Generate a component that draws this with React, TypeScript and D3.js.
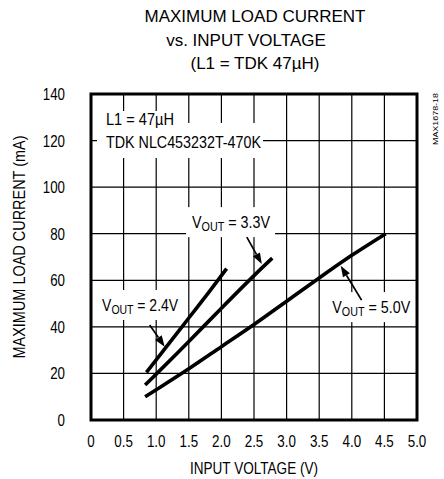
import React from 'react';
import * as d3 from 'd3';

// ---- data ----
const xTicks = [0, 0.5, 1, 1.5, 2, 2.5, 3, 3.5, 4, 4.5, 5];
const xTickLabels = ['0', '0.5', '1.0', '1.5', '2.0', '2.5', '3.0', '3.5', '4.0', '4.5', '5.0'];
const yTicks = [0, 20, 40, 60, 80, 100, 120, 140];
const yTickLabels = ['0', '20', '40', '60', '80', '100', '120', '140'];

const vin24 = [0.85, 1.2, 1.5, 1.8, 2.08];
const iout24 = [20.5, 33, 43.8, 54.6, 65];
const vin33 = [0.83, 1.0, 1.5, 2.0, 2.5, 2.78];
const iout33 = [15, 19.7, 33.7, 48, 62, 69.5];
const vin50 = [0.83, 1.0, 1.5, 2.0, 2.5, 3.0, 3.5, 4.0, 4.52];
const iout50 = [10, 13, 22, 31.5, 41, 51, 61, 70.7, 80];

const titleLines = ['MAXIMUM LOAD CURRENT', 'vs. INPUT VOLTAGE', '(L1 = TDK 47\u00B5H)'];
const xTitle = 'INPUT VOLTAGE (V)';
const yTitle = 'MAXIMUM LOAD CURRENT (mA)';
const figId = 'MAX1678-18';
const noteLines = ['L1 = 47\u00B5H', 'TDK NLC453232T-470K'];
const voutLabels = ['2.4V', '3.3V', '5.0V'];

const W = 444;
const H = 479;
const FONT = "'Liberation Sans', Arial, Helvetica, sans-serif";

const x = d3.scaleLinear().domain([0, 5]).range([91, 417]);
const y = d3.scaleLinear().domain([0, 140]).range([420, 94]);

const line = d3
  .line<[number, number]>()
  .x((d) => x(d[0]))
  .y((d) => y(d[1]))
  .curve(d3.curveCatmullRom.alpha(0.5));

const zip = (a: number[], b: number[]) => a.map((v, i) => [v, b[i]] as [number, number]);

const series = [zip(vin24, iout24), zip(vin33, iout33), zip(vin50, iout50)];

// annotation anchor points in data units
const arrows = [
  { from: [0.9, 40.8], to: [1.13, 31.5] },
  { from: [2.39, 78.5], to: [2.62, 67.0] },
  { from: [4.15, 51.5], to: [3.83, 66.2] },
];
const labelPos = [
  { v: 0.17, i: 46.8, w: 76 },
  { v: 1.55, i: 82.4, w: 78 },
  { v: 3.7, i: 45.9, w: 78 },
];
const notePos = [
  { v: 0.23, i: 126.6, w: 68, bx0: 97, bx1: 185, top: 111, bot: 128 },
  { v: 0.23, i: 116.8, w: 155, bx0: 97, bx1: 263, top: 123, bot: 158 },
];

function tickLen(s: string) {
  let n = 0;
  for (const c of s) n += c === '.' ? 3.8 : 7.4;
  return n;
}

function Arrow({ from, to }: { from: number[]; to: number[] }) {
  const x0 = x(from[0]);
  const y0 = y(from[1]);
  const x1 = x(to[0]);
  const y1 = y(to[1]);
  const ang = Math.atan2(y1 - y0, x1 - x0);
  const L = 11;
  const hw = 4;
  const bx = x1 - L * Math.cos(ang);
  const by = y1 - L * Math.sin(ang);
  const px = -Math.sin(ang) * hw;
  const py = Math.cos(ang) * hw;
  return (
    <g>
      <line x1={x0} y1={y0} x2={bx} y2={by} stroke="#000" strokeWidth={1.7} />
      <polygon points={`${x1},${y1} ${bx + px},${by + py} ${bx - px},${by - py}`} fill="#000" />
    </g>
  );
}

export default function App() {
  return (
    <svg
      width={W}
      height={H}
      viewBox={`0 0 ${W} ${H}`}
      style={{ position: 'absolute', left: 0, top: 0, background: '#fff' }}
      fontFamily={FONT}
    >
      <rect x={0} y={0} width={W} height={H} fill="#fff" />
      {/* title */}
      {titleLines.map((t, k) => (
        <text key={t} x={k === 1 ? 246 : 255} y={22 + k * 23.5} fontSize={17} textAnchor="middle" fill="#000">
          {t}
        </text>
      ))}

      {/* grid */}
      <g stroke="#000" strokeWidth={1.2}>
        {xTicks.slice(1, -1).map((t) => (
          <line key={'gx' + t} x1={x(t)} x2={x(t)} y1={y(0)} y2={y(140)} />
        ))}
        {yTicks.slice(1, -1).map((t) => (
          <line key={'gy' + t} x1={x(0)} x2={x(5)} y1={y(t)} y2={y(t)} />
        ))}
      </g>

      {/* label background boxes */}
      {notePos.map((n, k) => (
        <rect key={'nb' + k} x={n.bx0} y={n.top} width={n.bx1 - n.bx0} height={n.bot - n.top} fill="#fff" />
      ))}
      {labelPos.map((p, k) => (
        <rect
          key={'lb' + k}
          x={x(p.v) - 6}
          y={y(p.i) - 21}
          width={p.w + 11}
          height={30}
          fill="#fff"
        />
      ))}

      {/* curves */}
      {series.map((s, k) => (
        <path key={'s' + k} d={line(s) || ''} fill="none" stroke="#000" strokeWidth={3.6} strokeLinecap="butt" />
      ))}

      {/* arrows */}
      {arrows.map((a, k) => (
        <Arrow key={'a' + k} from={a.from} to={a.to} />
      ))}

      {/* notes */}
      {noteLines.map((t, k) => (
        <text
          key={t}
          x={x(notePos[k].v)}
          y={y(notePos[k].i)}
          fontSize={16}
          textLength={notePos[k].w}
          lengthAdjust="spacingAndGlyphs"
          fill="#000"
        >
          {t}
        </text>
      ))}

      {/* VOUT labels */}
      {voutLabels.map((t, k) => (
        <text
          key={t}
          x={x(labelPos[k].v)}
          y={y(labelPos[k].i)}
          fontSize={16}
          textLength={labelPos[k].w}
          lengthAdjust="spacingAndGlyphs"
          fill="#000"
        >
          V
          <tspan fontSize={12} dy={3}>
            OUT
          </tspan>
          <tspan dy={-3}>{' = ' + t}</tspan>
        </text>
      ))}

      {/* frame */}
      <rect x={x(0)} y={y(140)} width={x(5) - x(0)} height={y(0) - y(140)} fill="none" stroke="#000" strokeWidth={3} />

      {/* y ticks */}
      {yTicks.map((t, k) => (
        <text
          key={'yt' + t}
          x={65}
          y={y(t) + 6}
          fontSize={16}
          textAnchor="end"
          textLength={tickLen(yTickLabels[k])}
          lengthAdjust="spacingAndGlyphs"
          fill="#000"
        >
          {yTickLabels[k]}
        </text>
      ))}
      {/* x ticks */}
      {xTicks.map((t, k) => (
        <text
          key={'xt' + t}
          x={x(t)}
          y={447}
          fontSize={16}
          textAnchor="middle"
          textLength={tickLen(xTickLabels[k])}
          lengthAdjust="spacingAndGlyphs"
          fill="#000"
        >
          {xTickLabels[k]}
        </text>
      ))}

      {/* axis titles */}
      <text
        x={254}
        y={474}
        fontSize={16}
        textAnchor="middle"
        textLength={128}
        lengthAdjust="spacingAndGlyphs"
        fill="#000"
      >
        {xTitle}
      </text>
      <text
        transform="translate(25,247) rotate(-90)"
        fontSize={16}
        textAnchor="middle"
        textLength={223}
        lengthAdjust="spacingAndGlyphs"
        fill="#000"
      >
        {yTitle}
      </text>
      <text
        transform="translate(438,119) rotate(-90)"
        fontSize={8}
        textAnchor="middle"
        textLength={52}
        lengthAdjust="spacingAndGlyphs"
        fill="#000"
      >
        {figId}
      </text>
    </svg>
  );
}
